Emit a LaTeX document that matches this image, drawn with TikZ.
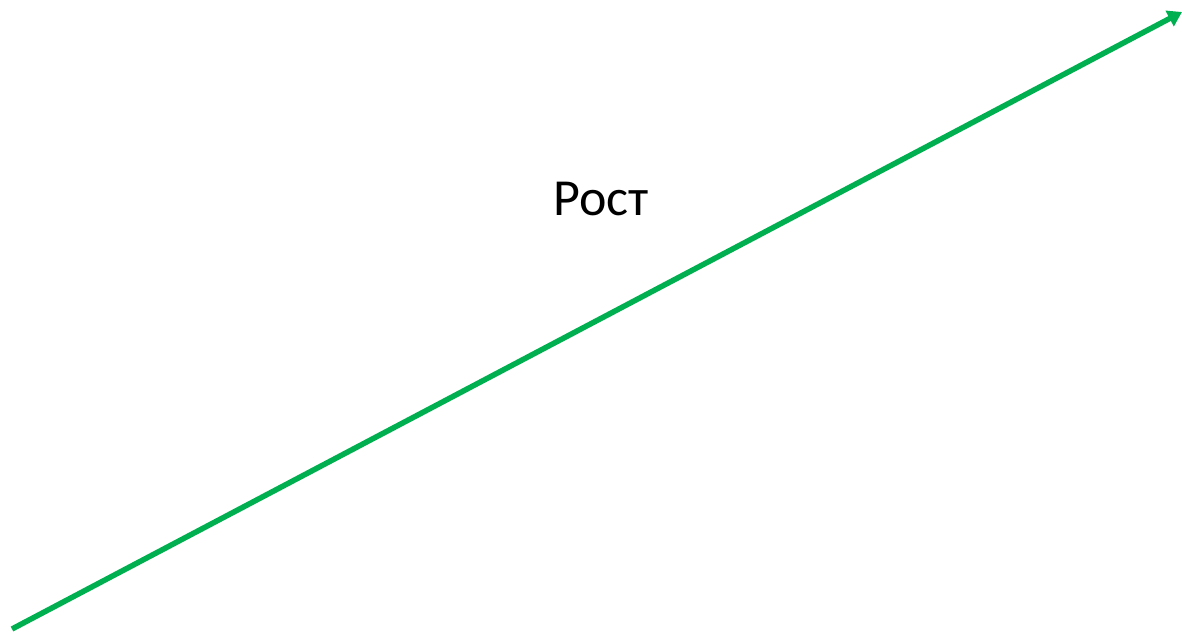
\documentclass[tikz,border=0pt]{standalone}
\usepackage{fontspec}
\setmainfont{Carlito}
\usetikzlibrary{positioning,calc}
\usetikzlibrary{arrows.meta}
\definecolor{GrowGreen}{RGB}{0,176,80}
\tikzset{
  growth/.style={draw=GrowGreen,line width=5.5pt,-{Triangle[length=14pt,width=17pt]}},
  lbl/.style={inner sep=0pt,font=\fontsize{52}{60}\selectfont},
}
\begin{document}
\begin{tikzpicture}[x=1pt,y=-1pt]
\useasboundingbox (0,0) rectangle (1182,635);
\coordinate (start) at (12,629);
\coordinate (tip) at (1182,12);
\draw[growth] (start) -- (tip);
\node[lbl] (rost) at (601,199) {Рост};
\end{tikzpicture}
\end{document}
